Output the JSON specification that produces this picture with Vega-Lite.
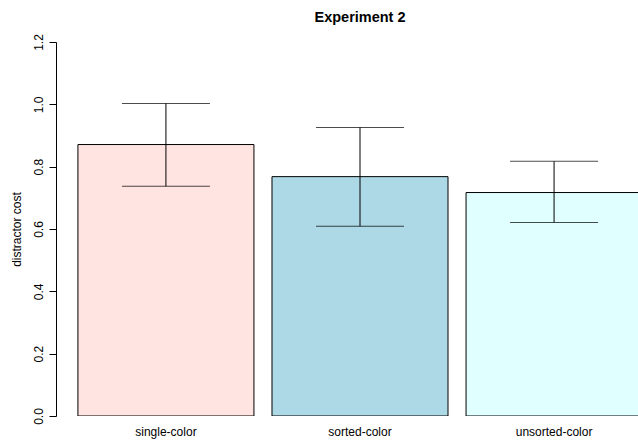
{
  "$schema": "https://vega.github.io/schema/vega-lite/v6.json",
  "width": 582,
  "height": 374,
  "autosize": {"type": "none"},
  "padding": {"left": 56, "top": 42, "right": 0, "bottom": 24},
  "background": "white",
  "config": {
    "view": {"stroke": null},
    "font": "Liberation Sans"
  },
  "title": {
    "text": "Experiment 2",
    "fontSize": 14.5,
    "fontWeight": "bold",
    "font": "Liberation Sans",
    "color": "black",
    "anchor": "middle",
    "dx": 13,
    "offset": 8
  },
  "data": {
    "values": [
      {"condition": "single-color", "cost": 0.871, "low": 0.737, "high": 1.003},
      {"condition": "sorted-color", "cost": 0.768, "low": 0.609, "high": 0.926},
      {"condition": "unsorted-color", "cost": 0.717, "low": 0.621, "high": 0.817}
    ]
  },
  "encoding": {
    "x": {
      "field": "condition",
      "type": "nominal",
      "sort": null,
      "scale": {"range": [0, 608], "paddingInner": 0.093, "paddingOuter": 0.113},
      "axis": {
        "title": null,
        "labelAngle": 0,
        "ticks": false,
        "domain": false,
        "labelPadding": 10,
        "labelFontSize": 12,
        "labelColor": "black",
        "labelFont": "Liberation Sans"
      }
    }
  },
  "layer": [
    {
      "mark": {"type": "bar", "stroke": "black", "strokeWidth": 1, "clip": true},
      "encoding": {
        "y": {
          "field": "cost",
          "type": "quantitative",
          "scale": {"domain": [0, 1.2], "nice": false, "zero": true},
          "axis": {
            "title": "distractor cost",
            "titleFontSize": 12,
            "titleFontWeight": "normal",
            "titleColor": "black",
            "titleFont": "Liberation Sans",
            "titlePadding": 9,
            "values": [0, 0.2, 0.4, 0.6, 0.8, 1.0, 1.2],
            "format": ".1f",
            "labelAngle": 270,
            "labelAlign": "center",
            "labelBaseline": "middle",
            "labelPadding": 11,
            "labelFontSize": 12,
            "labelColor": "black",
            "tickSize": 7,
            "tickColor": "black",
            "domainColor": "black",
            "grid": false
          }
        },
        "color": {
          "field": "condition",
          "type": "nominal",
          "sort": null,
          "scale": {"range": ["#FFE4E1", "#ADD8E6", "#E0FFFF"]},
          "legend": null
        }
      }
    },
    {
      "mark": {"type": "rule", "color": "black", "strokeWidth": 1},
      "encoding": {
        "y": {"field": "low", "type": "quantitative"},
        "y2": {"field": "high"}
      }
    },
    {
      "mark": {"type": "tick", "color": "black", "thickness": 1, "size": 88, "orient": "horizontal"},
      "encoding": {
        "y": {"field": "low", "type": "quantitative"}
      }
    },
    {
      "mark": {"type": "tick", "color": "black", "thickness": 1, "size": 88, "orient": "horizontal"},
      "encoding": {
        "y": {"field": "high", "type": "quantitative"}
      }
    }
  ]
}
